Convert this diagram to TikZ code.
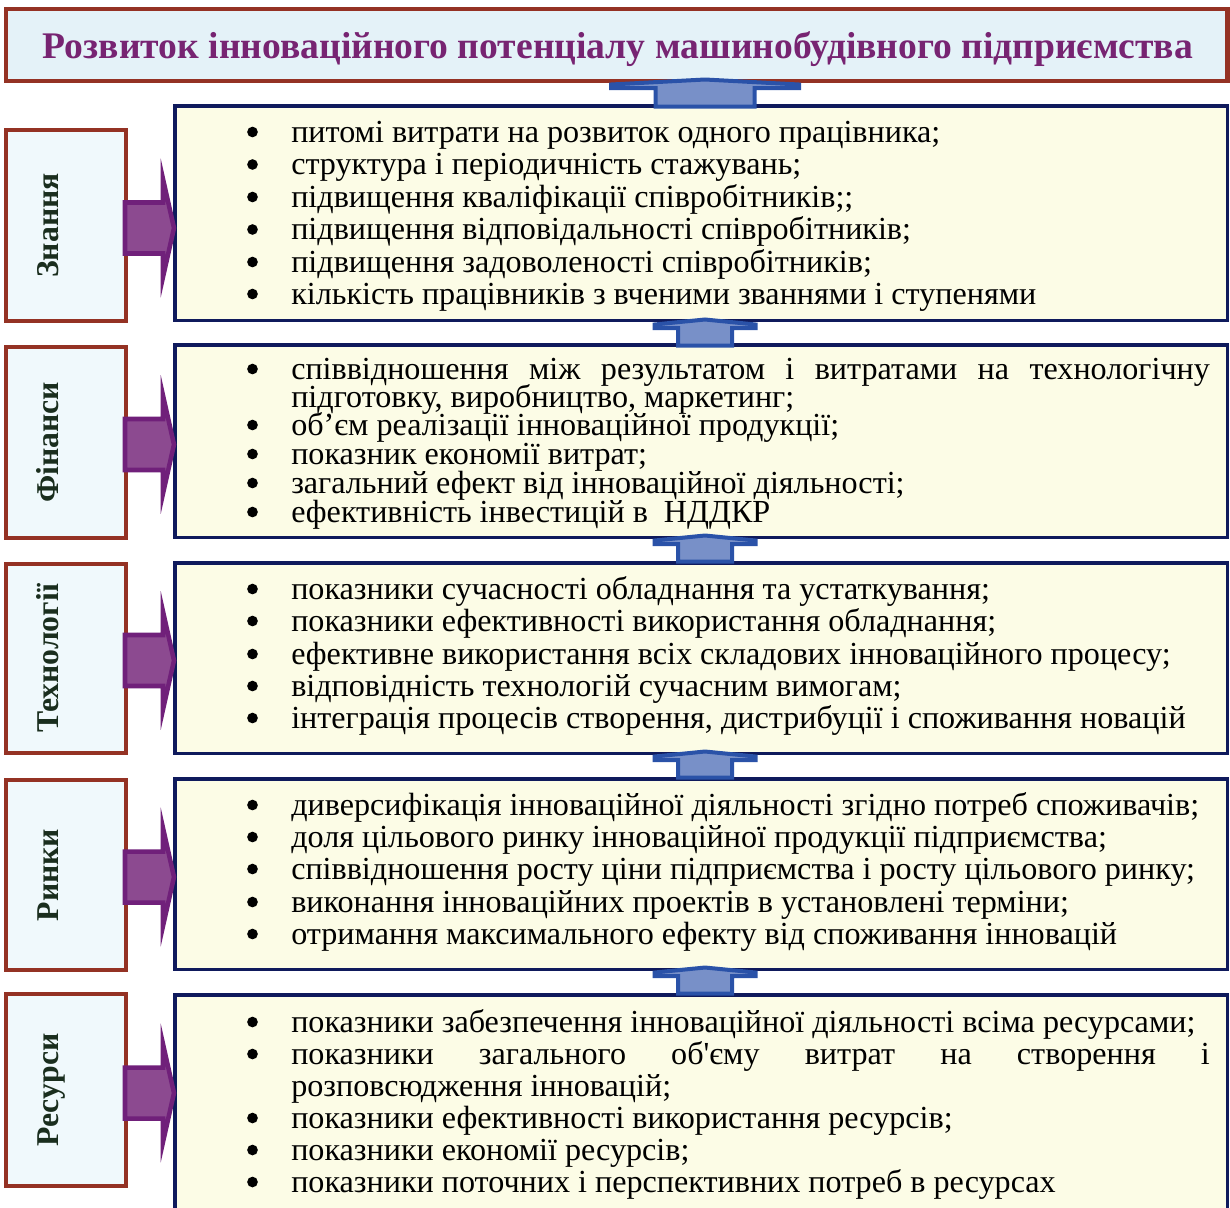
\documentclass[tikz,border=0pt]{standalone}
\usepackage{fontspec}
\setmainfont{Liberation Serif}
\usetikzlibrary{fit}
\definecolor{brownB}{RGB}{148,50,36}
\definecolor{titleFill}{RGB}{228,242,248}
\definecolor{titleText}{RGB}{119,36,114}
\definecolor{labFill}{RGB}{240,249,252}
\definecolor{labText}{RGB}{26,46,30}
\definecolor{navyB}{RGB}{15,26,92}
\definecolor{contFill}{RGB}{252,252,230}
\definecolor{purFill}{RGB}{140,74,144}
\definecolor{purB}{RGB}{112,32,122}
\definecolor{bluFill}{RGB}{120,144,200}
\definecolor{bluB}{RGB}{42,82,168}
\tikzset{
  titlebox/.style={draw=brownB, fill=titleFill, line width=3.3pt, inner sep=0pt},
  labbox/.style={draw=brownB, fill=labFill, line width=3pt, inner sep=0pt},
  contbox/.style={draw=navyB, fill=contFill, line width=2.6pt, inner sep=0pt},
  labtxt/.style={rotate=90, anchor=base, inner sep=0pt, text=labText, font=\fontsize{23.8pt}{27pt}\selectfont\bfseries},
  txt/.style={anchor=base west, inner sep=0pt, font=\fontsize{24.1pt}{28pt}\selectfont},
  bul/.style={circle, fill=black, inner sep=0pt, minimum size=8pt},
  uparr/.style={fill=bluFill, draw=bluB, line width=3pt, line join=miter},
  rarr/.style={fill=purFill, draw=purB, line width=3.4pt, line join=miter},
}
% up arrow: #1 centre x, #2 tip y, #3 half shaft, #4 half head, #5 bottom offset
\newcommand{\myUpArrow}[5]{%
  \draw[uparr] (#1-#3,#2+#5) -- (#1-#3,#2+10) -- (#1-#4,#2+10) -- (#1-#4,#2+6.5)
    -- (#1,#2+1.5) -- (#1+#4,#2+6.5) -- (#1+#4,#2+10) -- (#1+#3,#2+10) -- (#1+#3,#2+#5) -- cycle;}
% right arrow: #1 centre y
\newcommand{\myRightArrow}[1]{%
  \draw[rarr] (125,#1-25.5) -- (163,#1-25.5) -- (163,#1-49) -- (174,#1) -- (163,#1+49)
    -- (163,#1+25.5) -- (125,#1+25.5) -- cycle;}
\newcommand{\bitem}[3]{%
  \node[bul] (b#1) at (252.5,#2-10) {};
  \node[txt] (t#1) at (291,#2) {#3};}
\newcommand{\citem}[3]{%
  \node[txt] (t#1) at (291,#2) {#3};}
\begin{document}
\begin{tikzpicture}[x=0.75pt,y=-0.75pt]
\useasboundingbox[fill=white] (0,0) rectangle (1230,1207);
% title
\node[titlebox, fit={(6.2,9.2) (1227.5,80.8)}] (title) {};
\node[anchor=base, inner sep=0pt, text=titleText, font=\fontsize{28.2pt}{31pt}\selectfont\bfseries] (titletext) at (618,58) {Розвиток інноваційного потенціалу машинобудівного підприємства};
% content boxes
\node[contbox, fit={(175,105.8) (1227.5,320.5)}] (c1) {};
\node[contbox, fit={(175,344.8) (1227.5,537.5)}] (c2) {};
\node[contbox, fit={(175,562.8) (1227.5,753.5)}] (c3) {};
\node[contbox, fit={(175,778.8) (1227.5,969.5)}] (c4) {};
\node[contbox, fit={(175,994.8) (1227.5,1230)}] (c5) {};
% label boxes
\node[labbox, fit={(6,130) (126,321)}] (l1) {};
\node[labbox, fit={(6,347) (126,538)}] (l2) {};
\node[labbox, fit={(6,564) (126,753)}] (l3) {};
\node[labbox, fit={(6,780) (126,970)}] (l4) {};
\node[labbox, fit={(6,994) (126,1186)}] (l5) {};
\node[labtxt] (n1) at (58,225.5) {Знання};
\node[labtxt] (n2) at (58,442.5) {Фінанси};
\node[labtxt] (n3) at (58,658.5) {Технології};
\node[labtxt] (n4) at (58,875) {Ринки};
\node[labtxt] (n5) at (58,1090) {Ресурси};
% purple arrows
\myRightArrow{228}
\myRightArrow{444.5}
\myRightArrow{660.5}
\myRightArrow{877}
\myRightArrow{1093}
% blue up arrows
\myUpArrow{705}{78}{49.5}{94}{28.5}
\myUpArrow{705}{318}{27}{50.5}{27.5}
\myUpArrow{705}{534}{27}{50.5}{27.5}
\myUpArrow{705}{750}{27}{50.5}{27.5}
\myUpArrow{705}{966}{27}{50.5}{27.5}
% box 1
\bitem{11}{142}{питомі витрати на розвиток одного працівника;}
\bitem{12}{174.5}{структура і періодичність стажувань;}
\bitem{13}{207}{підвищення кваліфікації співробітників;;}
\bitem{14}{239.5}{підвищення відповідальності співробітників;}
\bitem{15}{272}{підвищення задоволеності співробітників;}
\bitem{16}{304}{кількість працівників з вченими званнями і ступенями}
% box 2
\bitem{21}{379}{\makebox[689pt][s]{співвідношення між результатом і витратами на технологічну}}
\citem{22}{407}{підготовку, виробництво, маркетинг;}
\bitem{23}{435}{об’єм реалізації інноваційної продукції;}
\bitem{24}{464}{показник економії витрат;}
\bitem{25}{493}{загальний ефект від інноваційної діяльності;}
\bitem{26}{522}{ефективність інвестицій в \ НДДКР}
% box 3
\bitem{31}{599}{показники сучасності обладнання та устаткування;}
\bitem{32}{631}{показники ефективності використання обладнання;}
\bitem{33}{664}{ефективне використання всіх складових інноваційного процесу;}
\bitem{34}{696}{відповідність технологій сучасним вимогам;}
\bitem{35}{728}{інтеграція процесів створення, дистрибуції і споживання новацій}
% box 4
\bitem{41}{815}{диверсифікація інноваційної діяльності згідно потреб споживачів;}
\bitem{42}{847}{доля цільового ринку інноваційної продукції підприємства;}
\bitem{43}{879}{співвідношення росту ціни підприємства і росту цільового ринку;}
\bitem{44}{912}{виконання інноваційних проектів в установлені терміни;}
\bitem{45}{944}{отримання максимального ефекту від споживання інновацій}
% box 5
\bitem{51}{1032}{показники забезпечення інноваційної діяльності всіма ресурсами;}
\bitem{52}{1064}{\makebox[689pt][s]{показники загального об\textquotesingle єму витрат на створення і}}
\citem{53}{1096}{розповсюдження інновацій;}
\bitem{54}{1128}{показники ефективності використання ресурсів;}
\bitem{55}{1160}{показники економії ресурсів;}
\bitem{56}{1192}{показники поточних і перспективних потреб в ресурсах}
\end{tikzpicture}
\end{document}
